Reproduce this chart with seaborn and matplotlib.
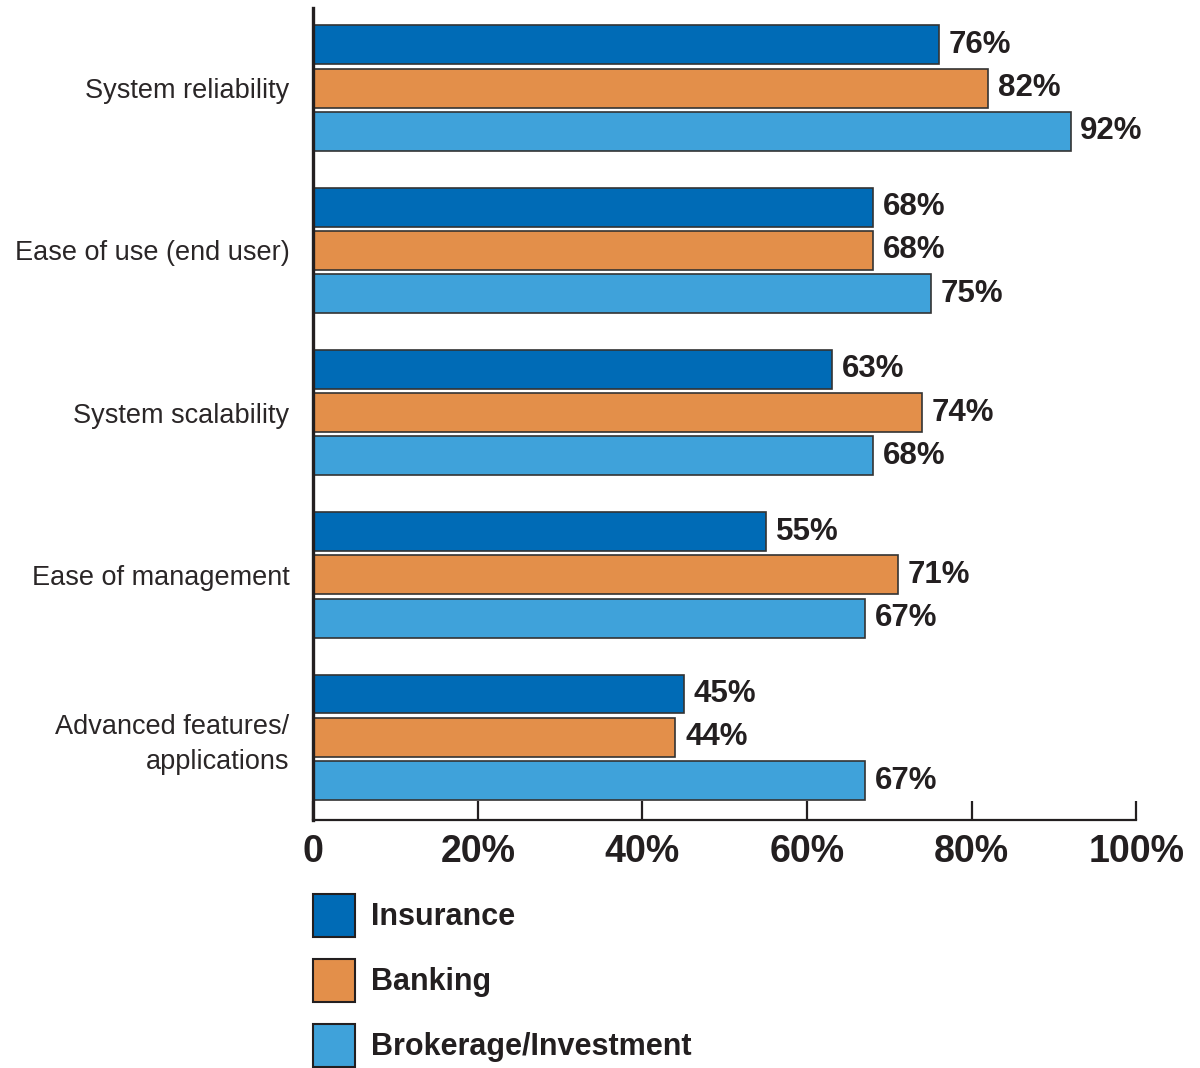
import matplotlib
matplotlib.use("Agg")
import matplotlib.pyplot as plt
from matplotlib.patches import Patch
import seaborn as sns
import pandas as pd

categories = ["System reliability", "Ease of use (end user)", "System scalability",
              "Ease of management", "Advanced features/\napplications"]
sectors = ["Insurance", "Banking", "Brokerage/Investment"]
insurance = [76, 68, 63, 55, 45]
banking = [82, 68, 74, 71, 44]
brokerage = [92, 75, 68, 67, 67]
xticks = [0, 20, 40, 60, 80, 100]
xtick_labels = ["0", "20%", "40%", "60%", "80%", "100%"]
colors = ["#006BB6", "#E38F4A", "#3FA2DA"]

rows = []
for sec, vals in zip(sectors, [insurance, banking, brokerage]):
    for c, v in zip(categories, vals):
        rows.append({"Category": c, "Sector": sec, "Value": v})
df = pd.DataFrame(rows)

sns.set_theme(style="white")
plt.rcParams["font.family"] = ["Liberation Sans", "DejaVu Sans"]
dark = "#231F20"

fig = plt.figure(figsize=(12, 10.68), dpi=100)
ax = fig.add_axes([0.261, 0.232, 0.686, 0.7605])

sns.barplot(data=df, y="Category", x="Value", hue="Sector", order=categories,
            hue_order=sectors, palette=colors, saturation=1, orient="h",
            width=0.8, gap=0.1, edgecolor="#333333", linewidth=1.2,
            legend=False, ax=ax)

for cont in ax.containers:
    ax.bar_label(cont, fmt="{:.0f}%", padding=7, fontsize=22.5,
                 fontweight="bold", color=dark)

ax.set_xlim(0, 100)
ax.set_ylim(4.511, -0.493)
ax.set_xticks(xticks)
ax.set_xticklabels(xtick_labels, fontsize=27, fontweight="bold", color=dark)
ax.tick_params(axis="x", bottom=True, direction="in", length=14, width=1.6,
               color=dark, pad=10)
ax.tick_params(axis="y", left=False, length=0, pad=17)
for lab in ax.get_yticklabels():
    lab.set_horizontalalignment("right")
    lab.set_linespacing(1.45)
    lab.set_fontsize(19.5)
    lab.set_color("#2a2627")
ax.set_xlabel("")
ax.set_ylabel("")
sns.despine(ax=ax, top=True, right=True)
ax.spines["left"].set_linewidth(2.4)
ax.spines["left"].set_color(dark)
ax.spines["bottom"].set_linewidth(1.6)
ax.spines["bottom"].set_color(dark)

handles = [Patch(facecolor=c, edgecolor=dark, linewidth=1.5) for c in colors]
fig.legend(handles, sectors, loc="upper left", bbox_to_anchor=(0.2605, 0.163),
           frameon=False, prop={"weight": "bold", "size": 22},
           handlelength=1.4, handleheight=1.79, labelspacing=0.715,
           handletextpad=0.52, borderpad=0, borderaxespad=0, labelcolor=dark)

fig.savefig("out.png", dpi=100)
